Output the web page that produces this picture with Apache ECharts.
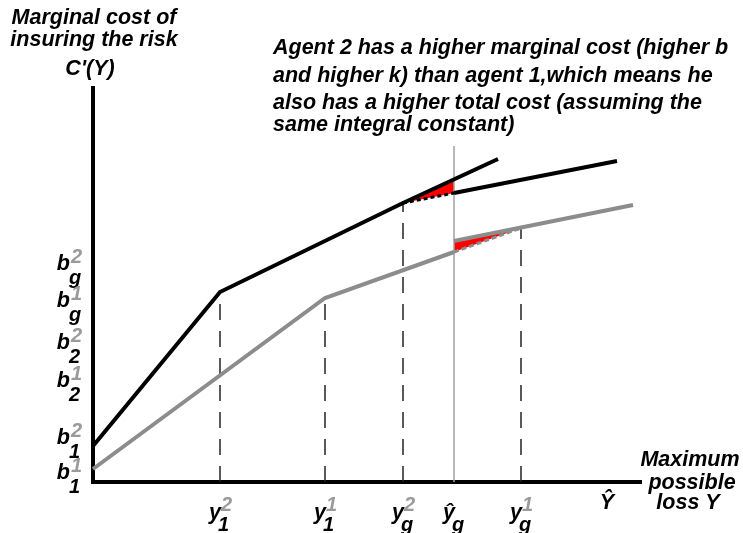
<!DOCTYPE html>
<html><head><meta charset="utf-8">
<script src="https://cdn.jsdelivr.net/npm/echarts@6/dist/echarts.min.js"></script>
<style>html,body{margin:0;padding:0;background:#fff}#c{width:743px;height:533px}</style>
</head><body><div id="c"></div>
<script>
// Agent 2 (black) marginal cost
const agent2Main = [[0,36],[127,190],[310,279],[405,323]];
const agent2Dotted = [[310,279],[361,289]];
const agent2Upper = [[361,289],[524,321]];
// Agent 1 (gray) marginal cost
const agent1Main = [[0,13],[232,184],[361,230]];
const agent1Dashed = [[361,230],[428,254]];
const agent1Upper = [[361,241],[540,277]];
// vertical at y-hat-g
const yHatGLine = [[361,0],[361,336]];
// dashed drop lines
const dropLines = [[127,190],[232,184],[310,279],[428,254]];
// red triangles
const redTriangles = [
  [[310,279],[361,303],[361,289]],
  [[361,241],[361,230],[428,254]]
];
// x tick labels
const xTickPos = [127,232,310,361,428,514];
const xTickMain = ['y','y','y','\u0177','y','\u0176'];
const xTickSub = ['1','1','g','g','g',''];
const xTickSup = ['2','1','2','','1',''];
// y tick labels
const yTickPos = [218,181,139,101,44,9];
const yTickSub = ['g','g','2','2','1','1'];
const yTickSup = ['2','1','2','1','2','1'];

const FONT = 'italic bold 21.5px "Liberation Sans", Arial, sans-serif';
const SFONT = 'italic bold 20px "Liberation Sans", Arial, sans-serif';
const GRAY = '#8c8c8c';
const SUPGRAY = '#9a9a9a';

function txt(text, x, y, align, font, fill) {
  return {type:'text', x:0, y:0, style:{text:text, x:x, y:y, font:font||FONT, fill:fill||'#000',
    align:align, textAlign:align, verticalAlign:'middle', textVerticalAlign:'middle'}};
}

const chart = echarts.init(document.getElementById('c'));
const series = [];
function line(data, color, width, type, z) {
  series.push({type:'line', data:data, symbol:'none', silent:true, z:z||3,
    lineStyle:{color:color, width:width, type:type||'solid', cap:'butt', join:'miter'}});
}
// red triangles
series.push({type:'custom', z:1, silent:true,
  data: redTriangles.map(t => t[0]),
  renderItem: function(params, api) {
    const pts = redTriangles[params.dataIndex].map(p => api.coord(p));
    return {type:'polygon', shape:{points:pts}, style:{fill:'#ff0000'}};
  }});
dropLines.forEach(p => line([[p[0],0],p], '#222', 1.5, [16,11], 2));
line(yHatGLine, '#a0a0a0', 1.5, 'solid', 2);
line(agent1Main, GRAY, 4);
line(agent1Dashed, GRAY, 3, [5,3]);
line(agent1Upper, GRAY, 4);
line(agent2Main, '#000', 4);
line(agent2Dotted, '#000', 3, [4,3]);
line(agent2Upper, '#000', 4);
// x labels
series.push({type:'custom', z:5, silent:true, clip:false,
  data: xTickPos.map(x => [x,0]),
  renderItem: function(params, api) {
    const i = params.dataIndex;
    const p = api.coord([api.value(0), 0]);
    const ch = [];
    const isCap = xTickMain[i] === '\u0176';
    ch.push(txt(xTickMain[i], isCap ? p[0] : p[0]+1, isCap ? p[1]+21 : p[1]+31, isCap ? 'center' : 'right'));
    if (xTickSup[i]) ch.push(txt(xTickSup[i], p[0]+1, p[1]+23, 'left', SFONT, SUPGRAY));
    if (xTickSub[i]) ch.push(txt(xTickSub[i], p[0]-2, p[1]+43, 'left', SFONT, '#000'));
    return {type:'group', children:ch};
  }});
// y labels
series.push({type:'custom', z:5, silent:true, clip:false,
  data: yTickPos.map(y => [0,y]),
  renderItem: function(params, api) {
    const i = params.dataIndex;
    const p = api.coord([0, api.value(1)]);
    const bx = p[0] - 23;
    return {type:'group', children:[
      txt('b', bx, p[1], 'right'),
      txt(yTickSup[i], bx+1, p[1]-7, 'left', SFONT, SUPGRAY),
      txt(yTickSub[i], bx-1, p[1]+14, 'left', SFONT, '#000')
    ]};
  }});

chart.setOption({
  animation:false,
  grid:{left:93, right:103, top:88, bottom:51},
  xAxis:{type:'value', min:0, max:547, axisLine:{show:true, onZero:false, lineStyle:{color:'#000', width:4, cap:'square'}},
    axisTick:{show:false}, axisLabel:{show:false}, splitLine:{show:false}},
  yAxis:{type:'value', min:0, max:394, axisLine:{show:true, onZero:false, lineStyle:{color:'#000', width:4, cap:'square'}},
    axisTick:{show:false}, axisLabel:{show:false}, splitLine:{show:false}},
  graphic:[
    txt('Marginal cost of', 94, 18, 'center'),
    txt('insuring the risk', 94, 40, 'center'),
    txt("C'(Y)", 90, 69, 'center'),
    txt('Agent 2 has a higher marginal cost (higher b', 273, 48, 'left'),
    txt('and higher k) than agent 1,which means he', 273, 76, 'left'),
    txt('also has a higher total cost (assuming the', 273, 103, 'left'),
    txt('same integral constant)', 273, 125, 'left'),
    txt('Maximum', 690, 460, 'center'),
    txt('possible', 692, 483, 'center'),
    txt('loss Y', 688, 503, 'center')
  ],
  series: series
});
</script></body></html>
